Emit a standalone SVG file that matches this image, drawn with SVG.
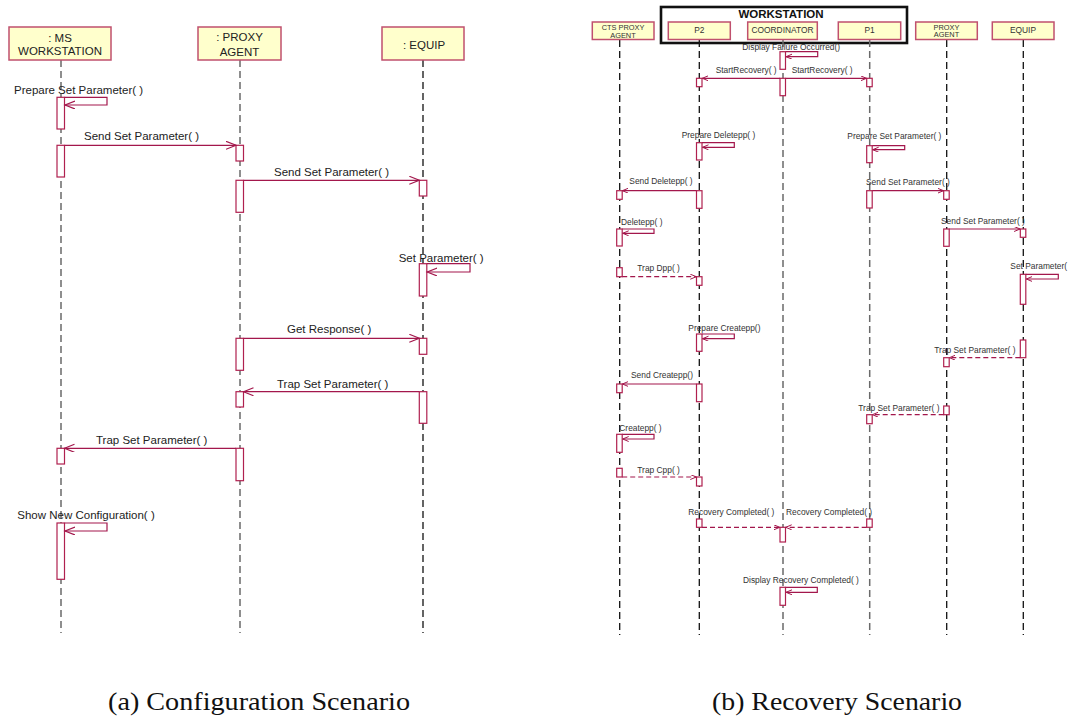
<svg xmlns="http://www.w3.org/2000/svg" width="1069" height="718" viewBox="0 0 1069 718">
  <style>
    .head { fill: #ffffcc; stroke: #c0506e; stroke-width: 1.5; }
    .act { fill: #ffffff; stroke: #b0204f; stroke-width: 1.2; }
    .ll-g { stroke: #6a6a6a; stroke-width: 1.5; stroke-dasharray: 7 4; fill: none; }
    .ll-k { stroke: #111111; stroke-width: 1.3; stroke-dasharray: 7 4; fill: none; }
    .msg { stroke: #a3174c; stroke-width: 1.2; fill: none; }
    .dash { stroke-dasharray: 5 3; }
    .big { marker-end: url(#openL); }
    .sm { marker-end: url(#openS); }
    .lbl { font-family: "Liberation Sans", Arial, sans-serif; font-size: 11.5px; fill: #222222; }
    .lbls { font-family: "Liberation Sans", Arial, sans-serif; font-size: 8.4px; fill: #333333; }
    .hd2 { font-family: "Liberation Sans", Arial, sans-serif; font-size: 7.4px; fill: #333333; }
    .mid { text-anchor: middle; }
    .cap { font-family: "Liberation Serif", "Times New Roman", serif; font-size: 26px; fill: #111111; }
  </style>
  <defs>
    <marker id="openL" markerUnits="userSpaceOnUse" markerWidth="12" markerHeight="10" refX="10" refY="4" orient="auto">
      <path d="M0,0 L10,4 L0,8" fill="none" stroke="#a3174c" stroke-width="1.2"/>
    </marker>
    <marker id="openS" markerUnits="userSpaceOnUse" markerWidth="8" markerHeight="7" refX="6" refY="2.5" orient="auto">
      <path d="M0,0 L6,2.5 L0,5" fill="none" stroke="#a3174c" stroke-width="1"/>
    </marker>
  </defs>
  <rect width="1069" height="718" fill="#ffffff"/>

  <!-- ===== (a) Configuration scenario ===== -->
  <g id="ms-workstation">
    <line class="ll-g" x1="61" y1="60" x2="61" y2="633"/>
    <rect class="head" x="9" y="27" width="102" height="33"/>
    <text class="lbl mid" x="60" y="41.5">: MS</text>
    <text class="lbl mid" x="60" y="54.5">WORKSTATION</text>
    <rect class="act" x="57" y="97.3" width="7.5" height="31.7"/>
    <rect class="act" x="57" y="145.3" width="7.5" height="31.7"/>
    <rect class="act" x="57" y="448.3" width="7.5" height="15.7"/>
    <rect class="act" x="57" y="523" width="7.5" height="56.3"/>
  </g>
  <g id="proxy-agent-a">
    <line class="ll-g" x1="240" y1="60" x2="240" y2="633"/>
    <rect class="head" x="198" y="27" width="83" height="33"/>
    <text class="lbl mid" x="239.5" y="40.5">: PROXY</text>
    <text class="lbl mid" x="239.5" y="55.5">AGENT</text>
    <rect class="act" x="236" y="145.3" width="7.5" height="15.7"/>
    <rect class="act" x="236" y="180.3" width="7.5" height="32"/>
    <rect class="act" x="236" y="338.3" width="7.5" height="32"/>
    <rect class="act" x="236" y="391.7" width="7.5" height="15.3"/>
    <rect class="act" x="236" y="448.3" width="7.5" height="32.4"/>
  </g>
  <g id="equip-a">
    <line class="ll-k" x1="423" y1="60" x2="423" y2="633"/>
    <rect class="head" x="382" y="27" width="82" height="33"/>
    <text class="lbl mid" x="424" y="49.3">: EQUIP</text>
    <rect class="act" x="419.3" y="180.3" width="7.5" height="15.7"/>
    <rect class="act" x="419.3" y="263.7" width="7.5" height="32.3"/>
    <rect class="act" x="419.3" y="338.3" width="7.5" height="16"/>
    <rect class="act" x="419.3" y="391.7" width="7.5" height="31.6"/>
  </g>

  <g id="messages-a">
    <path class="msg big" d="M64.5,97.3 H107 V105 H65"/>
    <text class="lbl" x="14" y="94">Prepare Set Parameter( )</text>
    <line class="msg big" x1="64.5" y1="145.3" x2="236" y2="145.3"/>
    <text class="lbl" x="84" y="140">Send Set Parameter( )</text>
    <line class="msg big" x1="243.5" y1="180.3" x2="419.3" y2="180.3"/>
    <text class="lbl" x="274" y="175.7">Send Set Parameter( )</text>
    <path class="msg big" d="M426.8,263.7 H470 V272 H427.2"/>
    <text class="lbl" x="398.7" y="261.7">Set Parameter( )</text>
    <line class="msg big" x1="243.5" y1="338.3" x2="419.3" y2="338.3"/>
    <text class="lbl" x="287" y="333.3">Get Response( )</text>
    <line class="msg big" x1="419.3" y1="391.7" x2="243.5" y2="391.7"/>
    <text class="lbl" x="277" y="387.7">Trap Set Parameter( )</text>
    <line class="msg big" x1="236" y1="448.3" x2="64.5" y2="448.3"/>
    <text class="lbl" x="96" y="443.5">Trap Set Parameter( )</text>
    <path class="msg big" d="M64.5,523 H107 V531 H65"/>
    <text class="lbl" x="17.3" y="519">Show New Configuration( )</text>
  </g>

  <!-- ===== (b) Recovery scenario ===== -->
  <g id="workstation-frame">
    <rect x="661" y="7" width="246" height="36" fill="none" stroke="#111111" stroke-width="2.6"/>
    <text x="781" y="17.5" text-anchor="middle" font-family="Liberation Sans, Arial, sans-serif" font-size="11.5" font-weight="bold" fill="#111111">WORKSTATION</text>
  </g>
  <g id="cts-proxy-agent">
    <line class="ll-k" x1="619.7" y1="40" x2="619.7" y2="635"/>
    <rect class="head" x="592.3" y="22" width="61.7" height="17.5"/>
    <text class="hd2 mid" x="623" y="30.2">CTS PROXY</text>
    <text class="hd2 mid" x="623" y="37.6">AGENT</text>
    <rect class="act" x="616.7" y="190.7" width="5.5" height="8.6"/>
    <rect class="act" x="616.7" y="229" width="5.5" height="17"/>
    <rect class="act" x="616.7" y="267.7" width="5.5" height="9"/>
    <rect class="act" x="616.7" y="384" width="5.5" height="8.7"/>
    <rect class="act" x="616.7" y="434.3" width="5.5" height="18"/>
    <rect class="act" x="616.7" y="468.3" width="5.5" height="8.7"/>
  </g>
  <g id="p2">
    <line class="ll-k" x1="699.3" y1="40" x2="699.3" y2="635"/>
    <rect class="head" x="668.3" y="22" width="62" height="17.5"/>
    <text class="lbls mid" x="699.3" y="33">P2</text>
    <rect class="act" x="696.5" y="78.3" width="5.5" height="8.4"/>
    <rect class="act" x="696.5" y="142.7" width="5.5" height="17.3"/>
    <rect class="act" x="696.5" y="190.7" width="5.5" height="17.6"/>
    <rect class="act" x="696.5" y="276.7" width="5.5" height="8.6"/>
    <rect class="act" x="696.5" y="334" width="5.5" height="17.3"/>
    <rect class="act" x="696.5" y="384" width="5.5" height="17.7"/>
    <rect class="act" x="696.5" y="477" width="5.5" height="9"/>
    <rect class="act" x="696.5" y="519" width="5.5" height="8.3"/>
  </g>
  <g id="coordinator">
    <line class="ll-g" x1="783" y1="40" x2="783" y2="635" stroke="#555555"/>
    <rect class="head" x="747.7" y="22" width="69.6" height="17.5"/>
    <text class="lbls mid" x="782.5" y="33">COORDINATOR</text>
    <rect class="act" x="780" y="51.7" width="5.5" height="17.6"/>
    <rect class="act" x="780" y="78.3" width="5.5" height="17.4"/>
    <rect class="act" x="780" y="527.3" width="5.5" height="14.7"/>
    <rect class="act" x="780" y="587.3" width="5.5" height="18"/>
  </g>
  <g id="p1">
    <line class="ll-g" x1="869.7" y1="40" x2="869.7" y2="635" stroke="#555555"/>
    <rect class="head" x="838.3" y="22" width="62.4" height="17.5"/>
    <text class="lbls mid" x="869.5" y="33">P1</text>
    <rect class="act" x="866.7" y="78.3" width="5.5" height="8.4"/>
    <rect class="act" x="866.7" y="145.7" width="5.5" height="17"/>
    <rect class="act" x="866.7" y="190.7" width="5.5" height="17.3"/>
    <rect class="act" x="866.7" y="414.7" width="5.5" height="9"/>
    <rect class="act" x="866.7" y="519" width="5.5" height="8.3"/>
  </g>
  <g id="proxy-agent-b">
    <line class="ll-k" x1="946.7" y1="40" x2="946.7" y2="635"/>
    <rect class="head" x="915.7" y="22" width="61.6" height="17.5"/>
    <text class="hd2 mid" x="946.5" y="29.8">PROXY</text>
    <text class="hd2 mid" x="946.5" y="37.2">AGENT</text>
    <rect class="act" x="943.7" y="190.7" width="5.5" height="8.6"/>
    <rect class="act" x="943.7" y="229" width="5.5" height="17.3"/>
    <rect class="act" x="943.7" y="357.7" width="5.5" height="9"/>
    <rect class="act" x="943.7" y="406" width="5.5" height="8.7"/>
  </g>
  <g id="equip-b">
    <line class="ll-k" x1="1023.3" y1="40" x2="1023.3" y2="635"/>
    <rect class="head" x="992.3" y="22" width="61.7" height="17.5"/>
    <text class="lbls mid" x="1023" y="33">EQUIP</text>
    <rect class="act" x="1020.3" y="229" width="5.5" height="8.3"/>
    <rect class="act" x="1020.3" y="274.3" width="5.5" height="30"/>
    <rect class="act" x="1020.3" y="340" width="5.5" height="17.7"/>
  </g>

  <g id="messages-b">
    <path class="msg sm" d="M785.5,51.7 H817.7 V56.7 H786"/>
    <text class="lbls" x="742.3" y="50">Display Failure Occurred()</text>
    <line class="msg sm" x1="780" y1="78.3" x2="702.3" y2="78.3"/>
    <text class="lbls" x="715.7" y="73.3">StartRecovery( )</text>
    <line class="msg sm" x1="785.5" y1="78.3" x2="866.5" y2="78.3"/>
    <text class="lbls" x="791.7" y="73.3">StartRecovery( )</text>
    <path class="msg sm" d="M702,142.7 H734.3 V147.3 H702.5"/>
    <text class="lbls" x="681.7" y="137.7">Prepare Deletepp( )</text>
    <path class="msg sm" d="M872.2,145.7 H904.7 V149.7 H872.7"/>
    <text class="lbls" x="847.3" y="138.5">Prepare Set Parameter( )</text>
    <line class="msg sm" x1="696.5" y1="190.7" x2="622.4" y2="190.7"/>
    <text class="lbls" x="629.3" y="184.3">Send Deletepp( )</text>
    <line class="msg sm" x1="872.2" y1="190.7" x2="943.5" y2="190.7"/>
    <text class="lbls" x="866" y="185">Send Set Parameter( )</text>
    <path class="msg sm" d="M622.2,229 H654 V233.3 H622.7"/>
    <text class="lbls" x="621" y="225">Deletepp( )</text>
    <line class="msg sm" x1="949.2" y1="229" x2="1020.1" y2="229"/>
    <text class="lbls" x="941" y="224">Send Set Parameter( )</text>
    <line class="msg sm dash" x1="622.2" y1="276.7" x2="696.3" y2="276.7"/>
    <text class="lbls" x="637.3" y="270.7">Trap Dpp( )</text>
    <path class="msg sm" d="M1025.8,274.3 H1058.3 V279 H1026.3"/>
    <text class="lbls" x="1010.3" y="269.3">Set Parameter( )</text>
    <path class="msg sm" d="M702,334 H734.3 V338.7 H702.5"/>
    <text class="lbls" x="688.3" y="330.5">Prepare Createpp()</text>
    <line class="msg sm dash" x1="1020.3" y1="357.7" x2="949.4" y2="357.7"/>
    <text class="lbls" x="934.3" y="352.7">Trap Set Parameter( )</text>
    <line class="msg sm" x1="696.5" y1="384" x2="622.4" y2="384"/>
    <text class="lbls" x="631" y="378.3">Send Createpp()</text>
    <line class="msg sm dash" x1="943.7" y1="414.7" x2="872.4" y2="414.7"/>
    <text class="lbls" x="858.3" y="410.7">Trap Set Parameter( )</text>
    <path class="msg sm" d="M622.2,434.3 H654 V439 H622.7"/>
    <text class="lbls" x="619.3" y="430.7">Createpp( )</text>
    <line class="msg sm dash" x1="622.2" y1="477" x2="696.3" y2="477"/>
    <text class="lbls" x="637.3" y="473.3">Trap Cpp( )</text>
    <line class="msg sm dash" x1="702" y1="527.3" x2="779.8" y2="527.3"/>
    <text class="lbls" x="688.3" y="515">Recovery Completed( )</text>
    <line class="msg sm dash" x1="866.7" y1="527.3" x2="785.7" y2="527.3"/>
    <text class="lbls" x="786" y="515">Recovery Completed( )</text>
    <path class="msg sm" d="M785.5,587.3 H817.3 V592.3 H786"/>
    <text class="lbls" x="743" y="583.3">Display Recovery Completed( )</text>
  </g>

  <!-- sub-figure captions -->
  <text class="cap" x="108" y="710" textLength="302" lengthAdjust="spacingAndGlyphs">(a) Configuration Scenario</text>
  <text class="cap" x="712" y="710" textLength="250" lengthAdjust="spacingAndGlyphs">(b) Recovery Scenario</text>
</svg>
